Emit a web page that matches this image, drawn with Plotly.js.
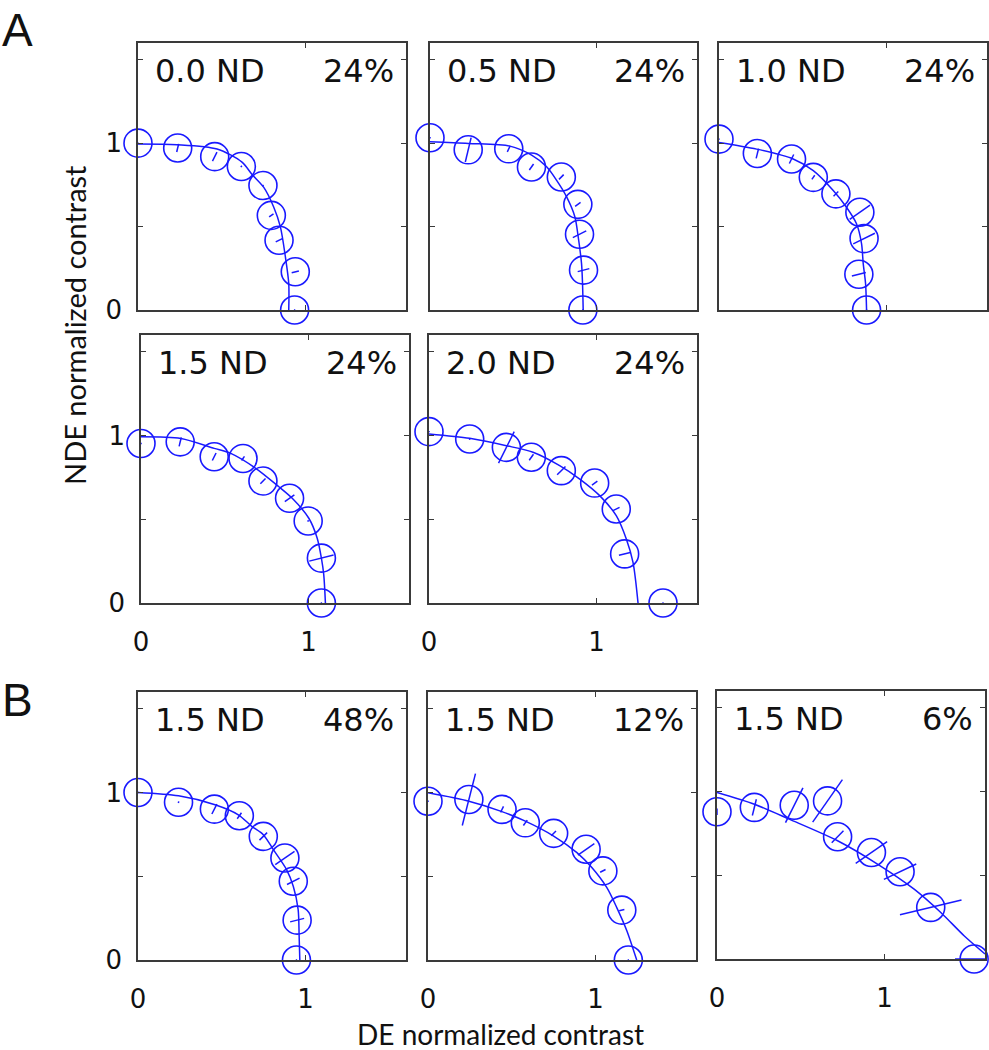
<!DOCTYPE html>
<html><head><meta charset="utf-8">
<script src="https://cdn.plot.ly/plotly-3.0.1.min.js"></script>
<style>html,body{margin:0;padding:0;background:#fff}#chart{width:989px;height:1050px}</style>
</head><body><div id="chart"></div>
<script>
// ---- panel labels ----
const ndLabels  = ['0.0 ND','0.5 ND','1.0 ND','1.5 ND','2.0 ND','1.5 ND','1.5 ND','1.5 ND'];
const pctLabels = ['24%','24%','24%','24%','24%','48%','12%','6%'];
const xTickVals = [0, 1];
const xTickText = ['0', '1'];
const yTickVals = [0, 0.5, 1, 1.5];
const yTickText = ['0', '', '1', ''];

// ---- data points (DE, NDE) and radial error half-lengths ----
const p1_x = [0.00, 0.237, 0.458, 0.617, 0.746, 0.796, 0.842, 0.939, 0.935];
const p1_y = [1.00, 0.971, 0.919, 0.860, 0.746, 0.567, 0.418, 0.229, 0.00];
const p1_e = [0, 0.025, 0.030, 0.005, 0.005, 0.016, 0.022, 0.022, 0];

const p2_x = [0.00, 0.229, 0.472, 0.608, 0.787, 0.886, 0.896, 0.920, 0.916];
const p2_y = [1.032, 0.960, 0.966, 0.857, 0.797, 0.633, 0.454, 0.239, 0.00];
const p2_e = [0, 0.075, 0.020, 0.022, 0.020, 0.020, 0.045, 0.036, 0];

const p3_x = [0.00, 0.229, 0.433, 0.563, 0.698, 0.841, 0.866, 0.835, 0.881];
const p3_y = [1.024, 0.938, 0.905, 0.795, 0.696, 0.586, 0.428, 0.214, 0.00];
const p3_e = [0, 0.030, 0.030, 0.015, 0.020, 0.074, 0.072, 0.043, 0];

const p4_x = [0.00, 0.234, 0.437, 0.609, 0.728, 0.887, 0.998, 1.077, 1.077];
const p4_y = [0.952, 0.962, 0.873, 0.863, 0.728, 0.625, 0.490, 0.268, 0.00];
const p4_e = [0, 0.028, 0.025, 0.015, 0.022, 0.035, 0.005, 0.075, 0];

const p5_x = [0.00, 0.243, 0.462, 0.611, 0.790, 0.989, 1.118, 1.168, 1.397];
const p5_y = [1.023, 0.979, 0.929, 0.870, 0.790, 0.716, 0.561, 0.293, 0.00];
const p5_e = [0, 0.005, 0.105, 0.022, 0.035, 0.020, 0.022, 0.035, 0];

const p6_x = [0.00, 0.242, 0.456, 0.605, 0.748, 0.877, 0.927, 0.950, 0.946];
const p6_y = [1.00, 0.942, 0.901, 0.861, 0.738, 0.609, 0.470, 0.238, 0.00];
const p6_e = [0, 0.005, 0.033, 0.022, 0.032, 0.070, 0.042, 0.043, 0];

const p7_x = [0.00, 0.244, 0.442, 0.581, 0.750, 0.944, 1.044, 1.157, 1.196];
const p7_y = [0.948, 0.958, 0.899, 0.819, 0.756, 0.661, 0.532, 0.298, 0.00];
const p7_e = [0, 0.160, 0.020, 0.020, 0.020, 0.060, 0.018, 0.016, 0];

const p8_x = [0.00, 0.223, 0.461, 0.660, 0.720, 0.922, 1.093, 1.276, 1.535];
const p8_y = [0.879, 0.905, 0.918, 0.944, 0.730, 0.636, 0.521, 0.308, 0.00];
const p8_e = [0.020, 0.050, 0.116, 0.155, 0.050, 0.114, 0.107, 0.189, 0.114];

// ---- fitted curves ----
const c1_x = [0, 0.233, 0.472, 0.621, 0.681, 0.750, 0.810, 0.850, 0.880, 0.900, 0.900];
const c1_y = [0.995, 0.991, 0.965, 0.886, 0.812, 0.736, 0.617, 0.498, 0.318, 0.159, 0];

const c2_x = [0, 0.230, 0.479, 0.609, 0.699, 0.758, 0.818, 0.868, 0.888, 0.908, 0.914, 0.918];
const c2_y = [1.008, 0.998, 0.982, 0.928, 0.858, 0.778, 0.679, 0.559, 0.439, 0.279, 0.160, 0];

const c3_x = [0, 0.225, 0.443, 0.563, 0.682, 0.761, 0.821, 0.851, 0.861, 0.875, 0.881];
const c3_y = [1.004, 0.964, 0.905, 0.835, 0.716, 0.616, 0.517, 0.398, 0.278, 0.159, 0];

const c4_x = [0, 0.238, 0.437, 0.536, 0.685, 0.823, 0.903, 1.002, 1.052, 1.077, 1.091, 1.101];
const c4_y = [0.992, 0.982, 0.923, 0.893, 0.804, 0.694, 0.625, 0.506, 0.387, 0.268, 0.169, 0];

const c5_x = [0, 0.243, 0.462, 0.621, 0.780, 0.900, 1.019, 1.118, 1.178, 1.218, 1.248];
const c5_y = [1.009, 0.983, 0.939, 0.900, 0.820, 0.740, 0.641, 0.521, 0.382, 0.243, 0];

const c6_x = [0, 0.242, 0.460, 0.599, 0.679, 0.748, 0.808, 0.887, 0.927, 0.956, 0.962, 0.966];
const c6_y = [1.000, 0.980, 0.927, 0.867, 0.798, 0.748, 0.659, 0.540, 0.440, 0.302, 0.143, 0];

const c7_x = [0, 0.244, 0.433, 0.581, 0.750, 0.889, 0.978, 1.067, 1.127, 1.187, 1.246];
const c7_y = [0.998, 0.948, 0.889, 0.829, 0.740, 0.641, 0.552, 0.433, 0.313, 0.175, 0];

const c8_x = [0, 0.223, 0.431, 0.720, 0.958, 1.177, 1.336, 1.475, 1.600];
const c8_y = [0.994, 0.924, 0.835, 0.706, 0.567, 0.417, 0.278, 0.139, 0.030];

const points = [[p1_x,p1_y,p1_e],[p2_x,p2_y,p2_e],[p3_x,p3_y,p3_e],[p4_x,p4_y,p4_e],
                [p5_x,p5_y,p5_e],[p6_x,p6_y,p6_e],[p7_x,p7_y,p7_e],[p8_x,p8_y,p8_e]];
const curves = [[c1_x,c1_y],[c2_x,c2_y],[c3_x,c3_y],[c4_x,c4_y],
                [c5_x,c5_y],[c6_x,c6_y],[c7_x,c7_y],[c8_x,c8_y]];

// ---- layout geometry (pixels) ----
const W = 989, H = 1050;
const boxes = [
  [138, 406, 43, 310], [430, 697, 43, 310], [719, 987, 43, 310],
  [141, 409, 335, 603], [429, 697, 335, 603],
  [138, 406, 692, 960], [428, 696, 692, 960], [717, 985, 691, 959]
];
const showX = [false,false,false,true,true,true,true,true];
const showY = [true,false,false,true,false,true,false,false];

const BLUE = 'rgb(25,25,255)';
const traces = [];
const layout = {
  width: W, height: H, margin: {l:0, r:0, t:0, b:0},
  paper_bgcolor: '#fff', plot_bgcolor: '#fff', showlegend: false,
  annotations: [], font: {family: 'DejaVu Sans', color: '#111'}
};

boxes.forEach((b, i) => {
  const n = i + 1;
  const xa = n === 1 ? 'x' : 'x' + n, ya = n === 1 ? 'y' : 'y' + n;
  const common = {
    range: [0, 1.6], showgrid: false, zeroline: false, showline: true,
    linecolor: '#3a3a3a', linewidth: 1.7, mirror: 'ticks', ticks: 'inside',
    ticklen: 5, tickwidth: 1.2, tickcolor: '#3a3a3a', fixedrange: true,
    tickfont: {family: 'DejaVu Sans', size: 26, color: '#111'}
  };
  layout['xaxis' + (n === 1 ? '' : n)] = Object.assign({}, common, {
    domain: [b[0] / W, b[1] / W], anchor: ya, ticklabelstandoff: 15,
    tickvals: xTickVals, ticktext: xTickText, showticklabels: showX[i]
  });
  layout['yaxis' + (n === 1 ? '' : n)] = Object.assign({}, common, {
    domain: [1 - b[3] / H, 1 - b[2] / H], anchor: xa, ticklabelstandoff: 9,
    tickvals: yTickVals, ticktext: yTickText, showticklabels: showY[i]
  });

  // fitted curve
  traces.push({x: curves[i][0], y: curves[i][1], xaxis: xa, yaxis: ya, type: 'scatter',
    mode: 'lines', line: {color: BLUE, width: 1.5, shape: 'spline', smoothing: 0.8},
    hoverinfo: 'skip'});

  // radial error segments
  const [px, py, pe] = points[i];
  const sx = [], sy = [];
  px.forEach((xv, k) => {
    const r = Math.hypot(xv, py[k]) || 1;
    const ux = xv / r, uy = py[k] / r;
    const e = Math.max(pe[k], 0.004);
    sx.push(xv - e * ux, xv + e * ux, null);
    sy.push(py[k] - e * uy, py[k] + e * uy, null);
  });
  traces.push({x: sx, y: sy, xaxis: xa, yaxis: ya, type: 'scatter', mode: 'lines',
    line: {color: BLUE, width: 1.5}, cliponaxis: false, hoverinfo: 'skip'});

  // circles
  traces.push({x: px, y: py, xaxis: xa, yaxis: ya, type: 'scatter', mode: 'markers',
    marker: {symbol: 'circle-open', size: 28, color: BLUE, line: {color: BLUE, width: 1.6}},
    cliponaxis: false});

  // panel texts
  layout.annotations.push({xref: xa, yref: ya, x: 0.09, y: 1.43, xanchor: 'left', yanchor: 'middle',
    text: ndLabels[i], showarrow: false, font: {family: 'DejaVu Sans', size: 32, color: '#111'}});
  layout.annotations.push({xref: xa, yref: ya, x: 1.54, y: 1.43, xanchor: 'right', yanchor: 'middle',
    text: pctLabels[i], showarrow: false, font: {family: 'DejaVu Sans', size: 32, color: '#111'}});
});

// figure letters and axis titles
layout.annotations.push({xref: 'paper', yref: 'paper', x: 0 / W, y: 1 - 2 / H, xanchor: 'left', yanchor: 'top',
  text: 'A', showarrow: false, font: {family: 'Liberation Sans', size: 46, color: '#111'}});
layout.annotations.push({xref: 'paper', yref: 'paper', x: 0 / W, y: 1 - 672 / H, xanchor: 'left', yanchor: 'top',
  text: 'B', showarrow: false, font: {family: 'Liberation Sans', size: 46, color: '#111'}});
layout.annotations.push({xref: 'paper', yref: 'paper', x: 500 / W, y: 1 - 1034 / H, xanchor: 'center', yanchor: 'middle',
  text: 'DE normalized contrast', showarrow: false, font: {family: 'Lato', size: 28, color: '#111'}});
layout.annotations.push({xref: 'paper', yref: 'paper', x: 74 / W, y: 1 - 325 / H, xanchor: 'center', yanchor: 'middle',
  textangle: -90, text: 'NDE normalized contrast', showarrow: false, font: {family: 'Lato', size: 29, color: '#111'}});

Plotly.newPlot('chart', traces, layout, {displayModeBar: false, staticPlot: true});
</script></body></html>
